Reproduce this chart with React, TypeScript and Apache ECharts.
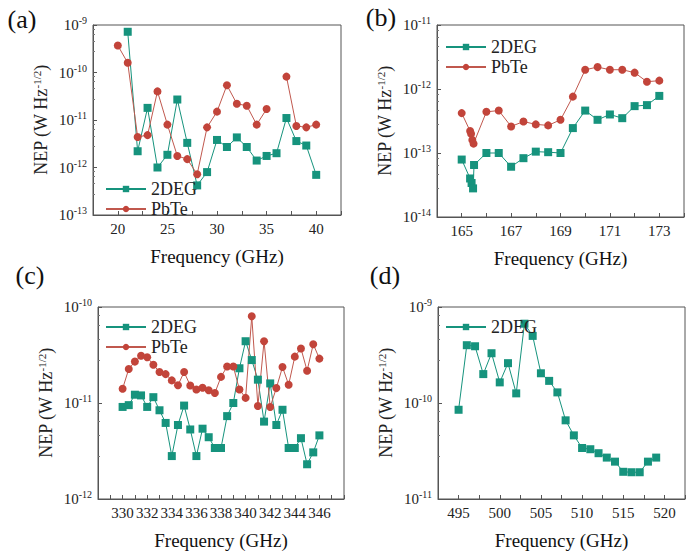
import React, { useEffect, useRef } from "react";
import * as echarts from "echarts";

const aX2 = [21,22,23,24,25,26,27,28,29,30,31,32,33,34,35,36,37,38,39,40];
const a2DEG = [7.2e-10,2.2e-12,1.8e-11,1e-12,1.85e-12,2.7e-11,3.3e-12,4.2e-13,8e-13,3.8e-12,2.7e-12,4.3e-12,2.7e-12,1.4e-12,1.75e-12,2e-12,1.1e-11,3.6e-12,2.9e-12,7e-13];
const aXP = [20,21,22,23,24,25,26,27,28,29,30,31,32,33,34,35,36,37,38,39,40];
const aPbTe = [3.7e-10,1.6e-10,4.4e-12,4.8e-12,4e-11,8e-12,1.75e-12,1.5e-12,7.2e-13,7e-12,1.5e-11,5.4e-11,2.2e-11,2e-11,8e-12,1.7e-11,null,8.2e-11,7.5e-12,7e-12,8e-12];

const bX = [165,165.34,165.4,165.46,165.5,166,166.5,167,167.5,168,168.5,169,169.5,170,170.5,171,171.5,172,172.5,173];
const b2DEG = [7.9e-14,4e-14,3.4e-14,2.8e-14,6.5e-14,1e-13,1e-13,6.1e-14,8.3e-14,1.05e-13,1.03e-13,1e-13,2.45e-13,4.6e-13,3.3e-13,4e-13,3.5e-13,5.4e-13,5.6e-13,7.8e-13];
const bXP = [165,165.34,165.38,165.43,165.48,166,166.5,167,167.5,168,168.5,169,169.5,170,170.5,171,171.5,172,172.5,173];
const bPbTe = [4.2e-13,2.2e-13,2e-13,1.6e-13,1.4e-13,4.4e-13,4.6e-13,2.6e-13,3.1e-13,2.8e-13,2.7e-13,3.3e-13,7.6e-13,2e-12,2.2e-12,2e-12,2e-12,1.8e-12,1.3e-12,1.35e-12];

const cX = [330,330.5,331,331.5,332,332.5,333,333.5,334,334.5,335,335.5,336,336.5,337,337.5,338,338.5,339,339.5,340,340.5,341,341.5,342,342.5,343,343.5,344,344.5,345,345.5,346];
const c2DEG = [9.1e-12,9.5e-12,1.22e-11,1.2e-11,9.1e-12,1.15e-11,8.4e-12,6.2e-12,2.8e-12,5.9e-12,9.4e-12,5.3e-12,2.8e-12,5.4e-12,4.4e-12,3.4e-12,3.4e-12,7.3e-12,1e-11,2.3e-11,4.4e-11,2.8e-11,1.75e-11,6.4e-12,1.6e-11,5.9e-12,8.5e-12,3.4e-12,3.4e-12,4.3e-12,2.3e-12,3.06e-12,4.6e-12];
const cPbTe = [1.41e-11,2.26e-11,2.7e-11,3.1e-11,3e-11,2.5e-11,2.1e-11,2e-11,1.72e-11,1.53e-11,2.1e-11,1.52e-11,1.38e-11,1.44e-11,1.36e-11,1.27e-11,1.87e-11,2.4e-11,2.4e-11,1.38e-11,1.13e-11,8e-11,9.3e-12,4.4e-11,9.1e-12,1.43e-11,2.37e-11,1.55e-11,3.04e-11,3.7e-11,2.17e-11,4.1e-11,2.9e-11];

const dX = [495,496,497,498,499,500,501,502,503,504,505,506,507,508,509,510,511,512,513,514,515,516,517,518,519];
const d2DEG = [8.5e-11,4e-10,3.9e-10,2e-10,3.3e-10,1.64e-10,2.6e-10,1.26e-10,6.7e-10,5e-10,2.04e-10,1.7e-10,1.29e-10,6.6e-11,4.6e-11,3.4e-11,3.3e-11,3e-11,2.7e-11,2.45e-11,1.92e-11,1.9e-11,1.9e-11,2.45e-11,2.7e-11];

const FONT = "Liberation Serif";
const TEAL = "#16937d";
const RED = "#c2443a";

function zip(xs: number[], ys: (number | null)[]) {
  return xs.map((x, i) => [x, ys[i]]);
}

export default function App() {
  const ref = useRef<HTMLDivElement>(null);
  useEffect(() => {
    document.body.style.margin = "0";
    const chart = echarts.init(ref.current!, null, { renderer: "svg" });
    const grids = [
      { left: 93, top: 25, width: 248, height: 190 },
      { left: 437, top: 25, width: 247, height: 192 },
      { left: 98, top: 307, width: 246, height: 192 },
      { left: 438, top: 307, width: 247, height: 192 },
    ];
    const xCfg = [
      { min: 17.5, max: 42.5, interval: 2.5, lab: (v: number) => (v % 5 === 0 ? String(v) : "") },
      { min: 164, max: 174, interval: 1, lab: (v: number) => (v % 2 === 1 ? String(v) : "") },
      { min: 328, max: 348, interval: 1, lab: (v: number) => (v % 2 === 0 && v > 328 && v < 348 ? String(v) : "") },
      { min: 492.5, max: 522.5, interval: 2.5, lab: (v: number) => (v % 5 === 0 ? String(v) : "") },
    ];
    const yCfg = [
      [1e-13, 1e-9],
      [1e-14, 1e-11],
      [1e-12, 1e-10],
      [1e-11, 1e-9],
    ];
    const axisLine = { lineStyle: { color: "#555", width: 1 } };
    const xAxis = xCfg.map((c, i) => ({
      type: "value",
      gridIndex: i,
      min: c.min,
      max: c.max,
      interval: c.interval,
      axisLine,
      axisTick: { inside: true, length: 4, lineStyle: { color: "#555" } },
      axisLabel: { formatter: c.lab, fontFamily: FONT, fontSize: 15, color: "#222", margin: 6 },
      splitLine: { show: false },
    }));
    const yAxis = yCfg.map((c, i) => ({
      type: "log",
      logBase: 10,
      gridIndex: i,
      min: c[0],
      max: c[1],
      axisLine,
      axisTick: { inside: true, length: 4, lineStyle: { color: "#555" } },
      minorTick: { show: true, splitNumber: 5, length: 2, lineStyle: { color: "#777" } },
      axisLabel: {
        formatter: (v: number) => "{b|10}{s|" + Math.round(Math.log10(v)) + "}",
        rich: {
          b: { fontFamily: FONT, fontSize: 15, color: "#222" },
          s: { fontFamily: FONT, fontSize: 10, color: "#222", padding: [0, 0, 9, 0] },
        },
        margin: 6,
      },
      splitLine: { show: false },
    }));
    const mk = (name: string, i: number, data: any[]) => ({
      name,
      type: "line",
      xAxisIndex: i,
      yAxisIndex: i,
      data,
      symbol: name === "2DEG" ? "rect" : "circle",
      symbolSize: 8,
      itemStyle: { color: name === "2DEG" ? TEAL : RED },
      lineStyle: { color: name === "2DEG" ? TEAL : "#c0584e", width: 1 },
      connectNulls: false,
    });
    const series = [
      mk("2DEG", 0, zip(aX2, a2DEG)),
      mk("PbTe", 0, zip(aXP, aPbTe)),
      mk("2DEG", 1, zip(bX, b2DEG)),
      mk("PbTe", 1, zip(bXP, bPbTe)),
      mk("2DEG", 2, zip(cX, c2DEG)),
      mk("PbTe", 2, zip(cX, cPbTe)),
      mk("2DEG", 3, zip(dX, d2DEG)),
    ];
    const leg = (left: number, top: number, data: string[]) => ({
      left,
      top,
      orient: "vertical",
      data,
      itemWidth: 40,
      itemHeight: 8,
      itemGap: 2,
      textStyle: { fontFamily: FONT, fontSize: 18, color: "#222" },
    });
    const txt = (x: number, y: number, t: string, size: number) => ({
      type: "text",
      x,
      y,
      style: { text: t, fontFamily: FONT, fontSize: size, fill: "#111", align: "center", verticalAlign: "middle" },
    });
    const yName = (cx: number, cy: number) => ({
      type: "text",
      x: cx,
      y: cy,
      rotation: Math.PI / 2,
      style: {
        text: "{b|NEP (W Hz}{s|-1/2}{b|)}",
        align: "center",
        verticalAlign: "middle",
        rich: {
          b: { fontFamily: FONT, fontSize: 18, fill: "#222" },
          s: { fontFamily: FONT, fontSize: 11, fill: "#222", padding: [0, 0, 9, 0] },
        },
      },
    });
    chart.setOption({
      animation: false,
      backgroundColor: "#fff",
      grid: grids.map((g) => ({ ...g, show: true, borderColor: "#555", borderWidth: 1, backgroundColor: "transparent" })),
      xAxis,
      yAxis,
      series,
      legend: [
        leg(100, 175, ["2DEG", "PbTe"]),
        leg(440, 33, ["2DEG", "PbTe"]),
        leg(100, 313, ["2DEG", "PbTe"]),
        leg(440, 313, ["2DEG"]),
      ],
      graphic: [
        txt(22, 19, "(a)", 26),
        txt(381, 17, "(b)", 26),
        txt(30, 275, "(c)", 26),
        txt(385, 275, "(d)", 26),
        ...grids.map((g) => txt(g.left + g.width / 2, g.top + g.height + 41, "Frequency (GHz)", 19)),
        ...grids.map((g) => yName(g.left - 52, g.top + g.height / 2)),
      ],
    });
    return () => chart.dispose();
  }, []);
  return <div ref={ref} style={{ width: 700, height: 558 }} />;
}
